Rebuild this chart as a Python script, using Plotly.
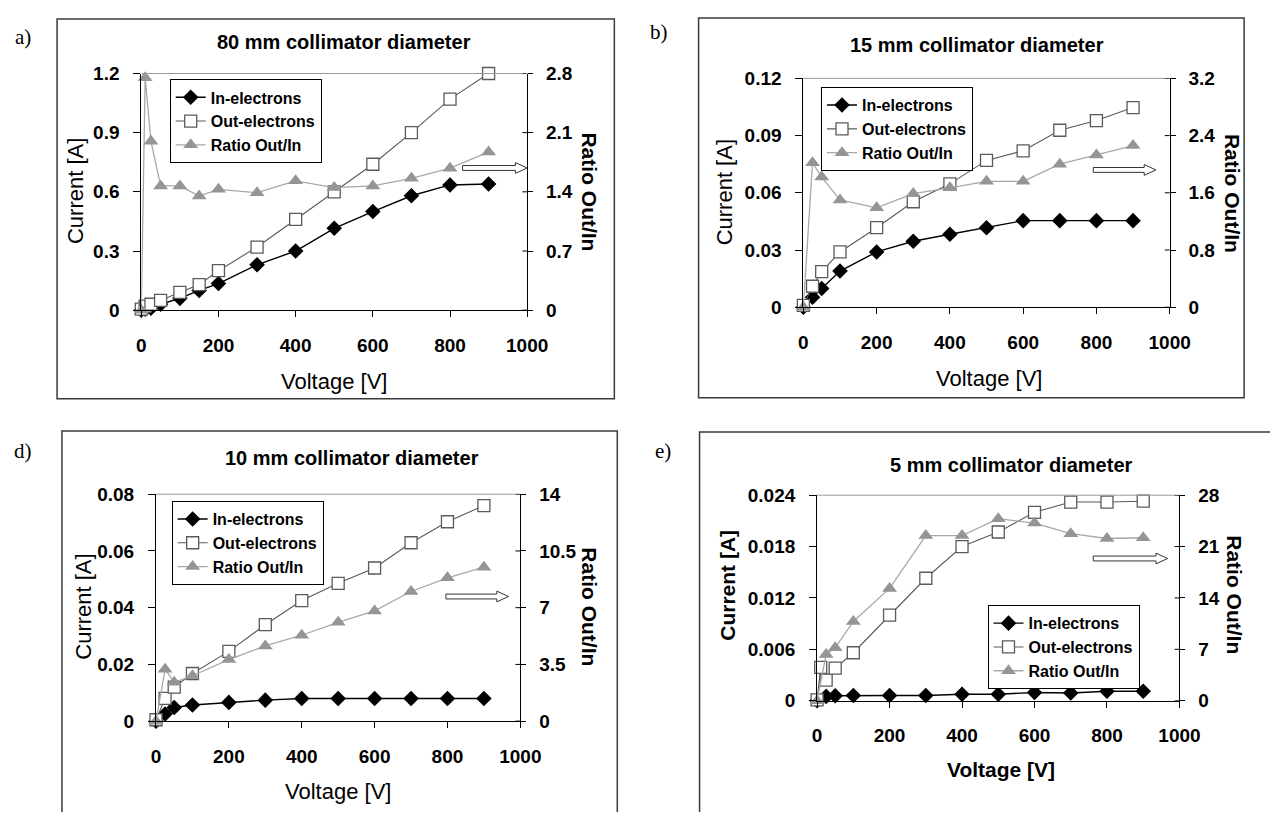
import plotly.graph_objects as go

# window size and browser default body margin (plotly's html page keeps 8px)
WIN_W, WIN_H = 1278, 821
OFF = 8
W, H = WIN_W - 2 * OFF, WIN_H - 2 * OFF - 1

# ---------------- data ----------------
x_a = [0, 10, 25, 50, 100, 150, 200, 300, 400, 500, 600, 700, 800, 900]
in_a = [0, 0.005, 0.01, 0.03, 0.06, 0.1, 0.135, 0.23, 0.3, 0.415, 0.5, 0.58, 0.635, 0.64]
out_a = [0.005, 0.02, 0.03, 0.05, 0.09, 0.13, 0.2, 0.32, 0.46, 0.6, 0.74, 0.9, 1.07, 1.2]
ratio_a = [0, 2.75, 2.0, 1.47, 1.47, 1.35, 1.43, 1.39, 1.53, 1.45, 1.47, 1.56, 1.68, 1.87]

x_b = [0, 25, 50, 100, 200, 300, 400, 500, 600, 700, 800, 900]
in_b = [0, 0.0052, 0.0098, 0.019, 0.029, 0.0346, 0.0383, 0.0417, 0.0454, 0.0454, 0.0454, 0.0454]
out_b = [0.001, 0.011, 0.0187, 0.029, 0.0417, 0.0553, 0.0647, 0.077, 0.082, 0.0928, 0.0979, 0.1047]
ratio_b = [0, 2.02, 1.82, 1.5, 1.39, 1.59, 1.67, 1.76, 1.76, 2.0, 2.13, 2.26]

x_d = [0, 25, 50, 100, 200, 300, 400, 500, 600, 700, 800, 900]
in_d = [0, 0.0025, 0.0048, 0.0057, 0.0066, 0.0074, 0.008, 0.008, 0.008, 0.008, 0.008, 0.008]
out_d = [0.0005, 0.008, 0.012, 0.0168, 0.0246, 0.034, 0.0425, 0.0486, 0.054, 0.0629, 0.0703, 0.076]
ratio_d = [0, 3.2, 2.4, 2.8, 3.8, 4.64, 5.3, 6.1, 6.8, 8.0, 8.84, 9.5]

x_e = [0, 25, 50, 100, 200, 300, 400, 500, 600, 700, 800, 900]
x_e_out = [0, 10, 25, 50, 100, 200, 300, 400, 500, 600, 700, 800, 900]
in_e = [0, 0.0005, 0.00057, 0.0006, 0.0006, 0.0006, 0.00076, 0.00076, 0.00095, 0.0009, 0.0011, 0.0011]
out_e = [0.0001, 0.0039, 0.0024, 0.0038, 0.0056, 0.01, 0.0143, 0.018, 0.0197, 0.022, 0.0232, 0.0232, 0.0233]
ratio_e = [0, 6.3, 7.2, 10.8, 15.3, 22.5, 22.5, 24.8, 24.2, 22.75, 22.1, 22.2]

x_ticks = [0, 200, 400, 600, 800, 1000]
x_ticktext = ["0", "200", "400", "600", "800", "1000"]

cur_ticks_a = [0, 0.3, 0.6, 0.9, 1.2]
cur_text_a = ["0", "0.3", "0.6", "0.9", "1.2"]
rat_ticks_a = [0, 0.7, 1.4, 2.1, 2.8]
rat_text_a = ["0", "0.7", "1.4", "2.1", "2.8"]

cur_ticks_b = [0, 0.03, 0.06, 0.09, 0.12]
cur_text_b = ["0", "0.03", "0.06", "0.09", "0.12"]
rat_ticks_b = [0, 0.8, 1.6, 2.4, 3.2]
rat_text_b = ["0", "0.8", "1.6", "2.4", "3.2"]

cur_ticks_d = [0, 0.02, 0.04, 0.06, 0.08]
cur_text_d = ["0", "0.02", "0.04", "0.06", "0.08"]
rat_ticks_d = [0, 3.5, 7, 10.5, 14]
rat_text_d = ["0", "3.5", "7", "10.5", "14"]

cur_ticks_e = [0, 0.006, 0.012, 0.018, 0.024]
cur_text_e = ["0", "0.006", "0.012", "0.018", "0.024"]
rat_ticks_e = [0, 7, 14, 21, 28]
rat_text_e = ["0", "7", "14", "21", "28"]

titles = ["80 mm collimator diameter", "15 mm collimator diameter",
          "10 mm collimator diameter", "5 mm collimator diameter"]
panel_letters = ["a)", "b)", "d)", "e)"]
series_names = ["In-electrons", "Out-electrons", "Ratio Out/In"]

# ---------------- layout helpers ----------------
FONT = "Liberation Sans, Arial, sans-serif"


def px(x):
    return (x - OFF) / W


def py(y):
    return 1 - (y - OFF) / H


panels = [
    dict(x=x_a, xo=x_a, i=in_a, o=out_a, r=ratio_a, ct=cur_ticks_a, ctt=cur_text_a,
         rt=rat_ticks_a, rtt=rat_text_a, boldtitles=False,
         plot=(139, 533, 65, 308), frame=(53, 622, 9, 399),
         title=(346, 33), cur=(72, 186), rat=(597, 187), volt=(336, 381), letter=(18, 28),
         arrow=(467, 533, 162), legend=(168, 71)),
    dict(x=x_b, xo=x_b, i=in_b, o=out_b, r=ratio_b, ct=cur_ticks_b, ctt=cur_text_b,
         rt=rat_ticks_b, rtt=rat_text_b, boldtitles=False,
         plot=(815, 1189, 70, 305), frame=(708, 1265, 8, 398),
         title=(992, 36), cur=(734, 187), rat=(1253, 188), volt=(1005, 378), letter=(668, 22),
         arrow=(1111, 1175, 164), legend=(833, 79)),
    dict(x=x_d, xo=x_d, i=in_d, o=out_d, r=ratio_d, ct=cur_ticks_d, ctt=cur_text_d,
         rt=rat_ticks_d, rtt=rat_text_d, boldtitles=False,
         plot=(154, 526, 497, 730), frame=(58, 625, 432, 840),
         title=(354, 460), cur=(80, 613), rat=(597, 613), volt=(340, 802), letter=(18, 453),
         arrow=(450, 514, 602), legend=(170, 504)),
    dict(x=x_e, xo=x_e_out, i=in_e, o=out_e, r=ratio_e, ct=cur_ticks_e, ctt=cur_text_e,
         rt=rat_ticks_e, rtt=rat_text_e, boldtitles=True,
         plot=(829, 1199, 498, 709), frame=(709, 1300, 433, 840),
         title=(1027, 467), cur=(738, 590), rat=(1255, 600), volt=(1017, 780), letter=(672, 453),
         arrow=(1111, 1187, 563), legend=(1003, 611)),
]

fig = go.Figure()
layout = dict(width=W, height=H, margin=dict(l=0, r=0, t=0, b=0),
              paper_bgcolor="white", plot_bgcolor="white", showlegend=True)
shapes = []
annotations = []

tick_font = dict(family=FONT, size=19, color="black", weight="bold")

for k, p in enumerate(panels):
    n = k + 1
    xname = "x" if n == 1 else f"x{n}"
    yl = 2 * k + 1
    yr = 2 * k + 2
    ylname = "y" if yl == 1 else f"y{yl}"
    yrname = f"y{yr}"
    leg = "legend" if n == 1 else f"legend{n}"
    x0, x1, y0, y1 = p["plot"]

    layout["xaxis" if n == 1 else f"xaxis{n}"] = dict(
        domain=[px(x0), px(x1)], anchor=ylname, range=[0, 1000],
        tickvals=x_ticks, ticktext=x_ticktext, ticks="outside", ticklen=6,
        tickcolor="black", showline=True, linecolor="black", linewidth=1,
        showgrid=False, zeroline=False, tickfont=tick_font, ticklabelstandoff=12)
    layout["yaxis" if yl == 1 else f"yaxis{yl}"] = dict(
        domain=[py(y1), py(y0)], anchor=xname, range=[0, p["ct"][-1]],
        tickvals=p["ct"], ticktext=p["ctt"], ticks="outside", ticklen=7,
        tickcolor="black", showline=True, linecolor="black", linewidth=1,
        showgrid=False, zeroline=False, tickfont=tick_font, ticklabelstandoff=10)
    layout[f"yaxis{yr}"] = dict(
        overlaying=ylname, side="right", anchor=xname, range=[0, p["rt"][-1]],
        tickvals=p["rt"], ticktext=p["rtt"], ticks="outside", ticklen=5,
        tickcolor="black", showline=True, linecolor="black", linewidth=1,
        showgrid=False, zeroline=False, tickfont=tick_font, ticklabelstandoff=9)

    fig.add_trace(go.Scatter(
        x=p["x"], y=p["i"], name=series_names[0], mode="lines+markers",
        xaxis=xname, yaxis=ylname, legend=leg, cliponaxis=False,
        line=dict(color="black", width=1.4),
        marker=dict(symbol="diamond", size=12, color="black")))
    fig.add_trace(go.Scatter(
        x=p["xo"], y=p["o"], name=series_names[1], mode="lines+markers",
        xaxis=xname, yaxis=ylname, legend=leg, cliponaxis=False,
        line=dict(color="#5a5a5a", width=1.1),
        marker=dict(symbol="square", size=12, color="white",
                    line=dict(color="#5a5a5a", width=1.3))))
    fig.add_trace(go.Scatter(
        x=p["x"], y=p["r"], name=series_names[2], mode="lines+markers",
        xaxis=xname, yaxis=yrname, legend=leg, cliponaxis=False,
        line=dict(color="#a8a8a8", width=1.3),
        marker=dict(symbol="triangle-up", size=13, color="#959595")))

    lx, ly = p["legend"]
    layout[leg] = dict(
        x=px(lx), y=py(ly), xanchor="left", yanchor="top",
        bordercolor="black", borderwidth=1, bgcolor="white",
        font=dict(family=FONT, size=16, color="black", weight="bold"),
        tracegroupgap=0, itemwidth=30)

    # frame around panel
    fx0, fx1, fy0, fy1 = p["frame"]
    shapes.append(dict(type="rect", xref="paper", yref="paper",
                       x0=px(fx0), x1=px(fx1), y0=py(fy1), y1=py(fy0),
                       line=dict(color="#3a3a3a", width=1.5), layer="below"))
    # gray top border of plot area
    shapes.append(dict(type="line", xref="paper", yref="paper",
                       x0=px(x0), x1=px(x1), y0=py(y0), y1=py(y0),
                       line=dict(color="#9a9a9a", width=1)))
    # inner half of the crossing ticks on the right axis
    frac = 5 / (x1 - x0)
    for tv in p["rt"]:
        shapes.append(dict(type="line", xref=f"{xname} domain", yref=yrname,
                           x0=1 - frac, x1=1, y0=tv, y1=tv,
                           line=dict(color="black", width=1)))
    # hollow arrow pointing to right axis
    ax0, ax1, ayc = p["arrow"]
    s, h, hl = 2.5, 5.5, 12
    pts = [(ax0, ayc - s), (ax1 - hl, ayc - s), (ax1 - hl, ayc - h), (ax1, ayc),
           (ax1 - hl, ayc + h), (ax1 - hl, ayc + s), (ax0, ayc + s)]
    path = "M " + " L ".join(f"{px(a):.5f},{py(b):.5f}" for a, b in pts) + " Z"
    shapes.append(dict(type="path", xref="paper", yref="paper", path=path,
                       fillcolor="white", line=dict(color="#333333", width=1)))

    axis_title_font = dict(family=FONT, size=21 if p["boldtitles"] else 22, color="black",
                           weight="bold" if p["boldtitles"] else "normal")
    tx, ty = p["title"]
    annotations.append(dict(text=titles[k], x=px(tx), y=py(ty), xref="paper", yref="paper",
                            showarrow=False, xanchor="center", yanchor="middle",
                            font=dict(family=FONT, size=20, color="black", weight="bold")))
    cx, cy = p["cur"]
    annotations.append(dict(text="Current [A]", x=px(cx), y=py(cy), xref="paper", yref="paper",
                            showarrow=False, textangle=-90, xanchor="center", yanchor="middle",
                            font=axis_title_font))
    rx, ry = p["rat"]
    annotations.append(dict(text="Ratio Out/In", x=px(rx), y=py(ry), xref="paper", yref="paper",
                            showarrow=False, textangle=90, xanchor="center", yanchor="middle",
                            font=dict(family=FONT, size=21, color="black", weight="bold")))
    vx, vy = p["volt"]
    annotations.append(dict(text="Voltage [V]", x=px(vx), y=py(vy), xref="paper", yref="paper",
                            showarrow=False, xanchor="center", yanchor="middle",
                            font=axis_title_font))
    lx2, ly2 = p["letter"]
    annotations.append(dict(text=panel_letters[k], x=px(lx2), y=py(ly2), xref="paper", yref="paper",
                            showarrow=False, xanchor="center", yanchor="middle",
                            font=dict(family="Liberation Serif, Times New Roman, serif",
                                      size=21, color="black")))

layout["shapes"] = shapes
layout["annotations"] = annotations
fig.update_layout(**layout)
fig.write_html("out.html")
